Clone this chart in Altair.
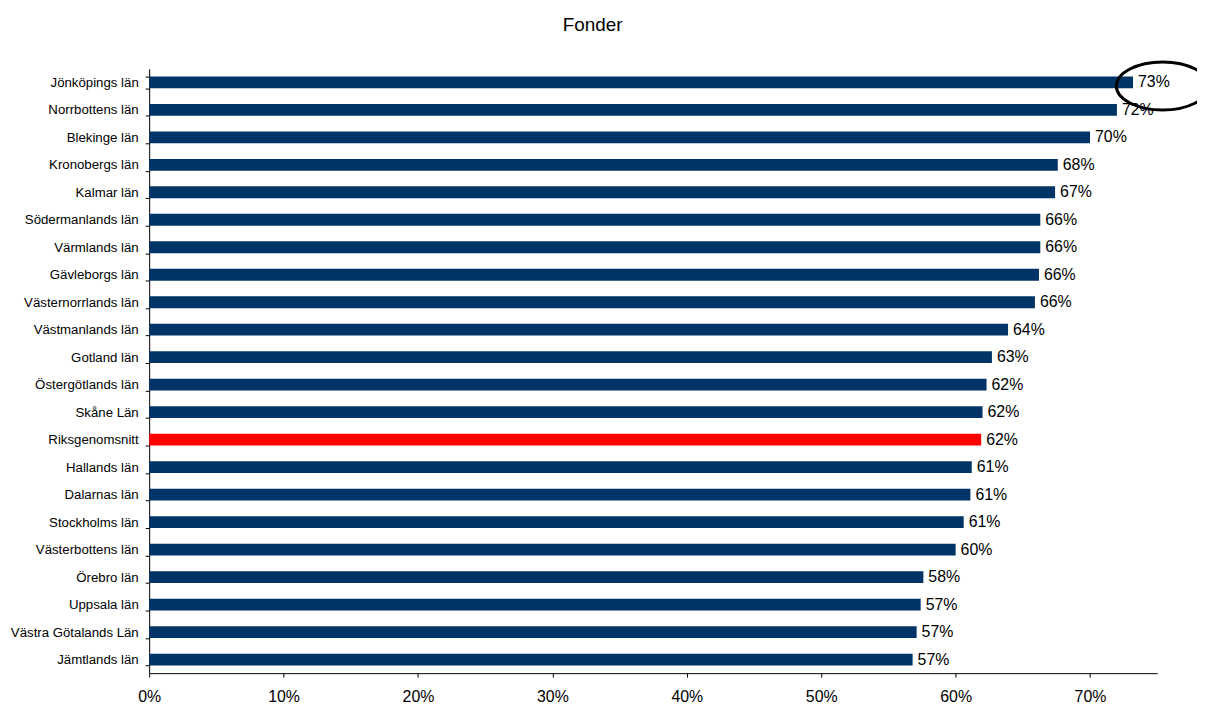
import altair as alt
import pandas as pd

categories = [
    "Jönköpings län", "Norrbottens län", "Blekinge län", "Kronobergs län",
    "Kalmar län", "Södermanlands län", "Värmlands län", "Gävleborgs län",
    "Västernorrlands län", "Västmanlands län", "Gotland län",
    "Östergötlands län", "Skåne Län", "Riksgenomsnitt", "Hallands län",
    "Dalarnas län", "Stockholms län", "Västerbottens län", "Örebro län",
    "Uppsala län", "Västra Götalands Län", "Jämtlands län",
]
values = [
    0.732, 0.720, 0.700, 0.676, 0.674, 0.663, 0.663, 0.662, 0.659, 0.639,
    0.627, 0.623, 0.620, 0.619, 0.612, 0.611, 0.606, 0.600, 0.576, 0.574,
    0.571, 0.568,
]
highlight = "Riksgenomsnitt"
annotated = "Jönköpings län"

df = pd.DataFrame({"lan": categories, "andel": values})
df["grupp"] = ["snitt" if c == highlight else "lan" for c in categories]

FONT = "Liberation Sans"

y_enc = alt.Y(
    "lan:N", sort=categories, title=None,
    scale=alt.Scale(paddingInner=0.57, paddingOuter=0.28),
    axis=alt.Axis(
        tickBand="extent", labelFontSize=13.3, labelColor="black",
        labelFont=FONT, labelPadding=7, tickSize=4, tickColor="black",
        domainColor="black", labelLimit=300,
    ),
)
x_enc = alt.X(
    "andel:Q", title=None,
    scale=alt.Scale(domain=[0, 0.75], nice=False),
    axis=alt.Axis(
        format=".0%", values=[0, 0.1, 0.2, 0.3, 0.4, 0.5, 0.6, 0.7],
        grid=False, labelFontSize=16, labelColor="black", labelFont=FONT,
        labelPadding=12, tickSize=4, tickColor="black", domainColor="black",
        labelFlush=False,
    ),
)

bars = alt.Chart(df).mark_bar().encode(
    x=x_enc, y=y_enc,
    color=alt.Color(
        "grupp:N",
        scale=alt.Scale(domain=["lan", "snitt"], range=["#003366", "#ff0000"]),
        legend=None,
    ),
)

labels = alt.Chart(df).mark_text(
    align="left", baseline="middle", dx=5, fontSize=16, font=FONT, color="black"
).encode(
    x="andel:Q", y=alt.Y("lan:N", sort=categories),
    text=alt.Text("andel:Q", format=".0%"),
)

ellipse_df = pd.DataFrame({"lan": [annotated], "andel": [0.754]})
ellipse = alt.Chart(ellipse_df).mark_point(
    shape="M -1 0.08 A 1 0.52 0 1 1 1 0.08 A 1 0.52 0 1 1 -1 0.08 Z",
    size=8650, filled=False, stroke="black", strokeWidth=3, opacity=1,
).encode(
    x="andel:Q", y=alt.Y("lan:N", sort=categories),
)

chart = alt.layer(bars, labels, ellipse).properties(
    width=1014, height=608,
    title=alt.TitleParams(
        "Fonder", fontSize=19, font=FONT, fontWeight="normal", color="black",
        dx=-61, offset=21,
    ),
    autosize=alt.AutoSizeParams(type="none"),
    padding={"left": 142, "top": 59, "right": 40, "bottom": 40},
).configure_view(stroke=None)

chart.save("out.html", embed_options={"renderer": "svg", "actions": False})
